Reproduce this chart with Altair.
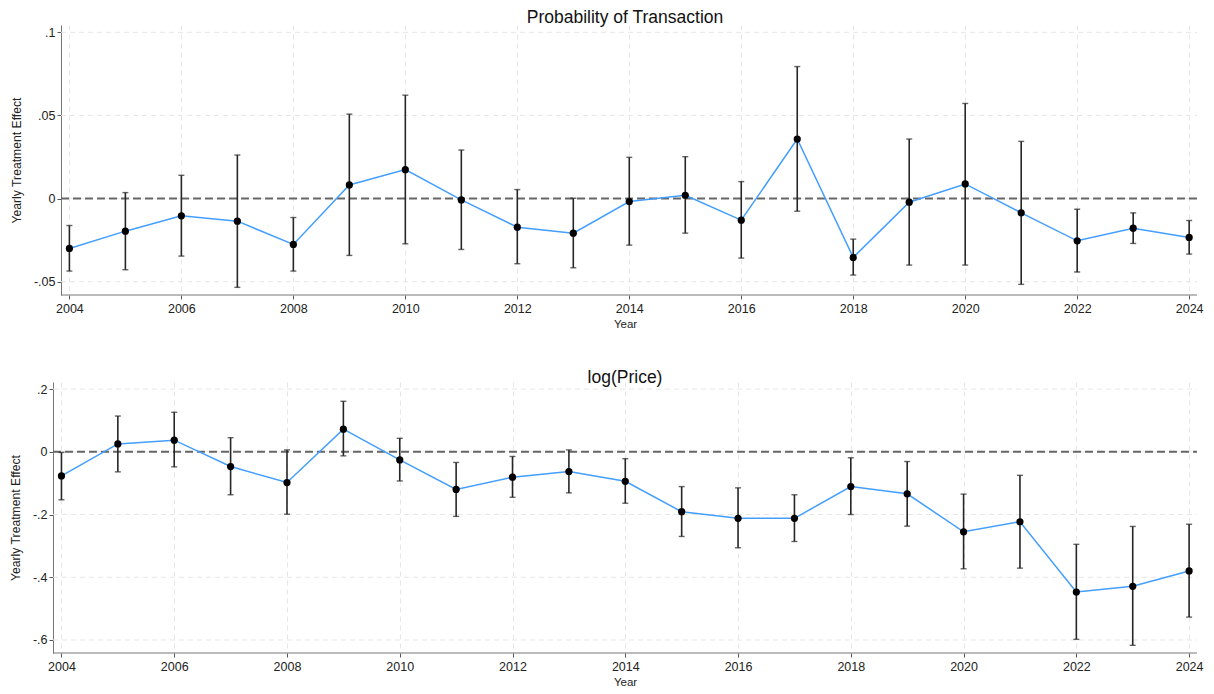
import altair as alt
import pandas as pd

years = list(range(2004, 2025))

# Panel 1: Probability of Transaction
prob_est = [-0.0300, -0.0196, -0.0104, -0.0136, -0.0276, 0.0082, 0.0174, -0.0008, -0.0172, -0.0208,
            -0.0018, 0.0020, -0.0130, 0.0358, -0.0354, -0.0022, 0.0088, -0.0086, -0.0254, -0.0178, -0.0234]
prob_hi = [-0.0162, 0.0036, 0.0140, 0.0262, -0.0114, 0.0508, 0.0622, 0.0292, 0.0054, 0.0002,
           0.0248, 0.0252, 0.0102, 0.0794, -0.0244, 0.0358, 0.0572, 0.0344, -0.0064, -0.0086, -0.0132]
prob_lo = [-0.0436, -0.0428, -0.0346, -0.0534, -0.0436, -0.0342, -0.0272, -0.0306, -0.0392, -0.0416,
           -0.0280, -0.0208, -0.0358, -0.0076, -0.0460, -0.0400, -0.0400, -0.0516, -0.0442, -0.0270, -0.0334]

# Panel 2: log(Price)
price_est = [-0.077, 0.025, 0.037, -0.047, -0.098, 0.072, -0.026, -0.120, -0.081, -0.063,
             -0.094, -0.191, -0.212, -0.212, -0.111, -0.134, -0.255, -0.223, -0.447, -0.429, -0.380]
price_hi = [-0.002, 0.114, 0.126, 0.045, 0.006, 0.161, 0.043, -0.034, -0.015, 0.006,
            -0.022, -0.111, -0.115, -0.137, -0.019, -0.031, -0.135, -0.075, -0.295, -0.238, -0.231]
price_lo = [-0.153, -0.064, -0.048, -0.137, -0.199, -0.013, -0.093, -0.206, -0.145, -0.131,
            -0.164, -0.270, -0.306, -0.286, -0.200, -0.237, -0.373, -0.371, -0.598, -0.617, -0.527]

x_ticks = list(range(2004, 2025, 2))
prob_ticks = [-0.05, 0, 0.05, 0.1]
price_ticks = [-0.6, -0.4, -0.2, 0, 0.2]

FONT = "Liberation Sans"
LABEL_EXPR = "replace(toString(datum.value), '0.', '.')"
YTITLE = "Yearly Treatment Effect"
W = 1144
PX_PER_YEAR = 56.0


def panel(title, est, lo, hi, ydomain, yticks, height, shift, title_offset):
    """shift = px by which the y axis sits inside the left edge of the plot area."""
    df = pd.DataFrame({"year": years, "est": est, "lo": lo, "hi": hi})
    x0 = 2003.85 - shift / PX_PER_YEAR
    xscale = alt.Scale(domain=[x0, 2024.14], nice=False, zero=False)
    yscale = alt.Scale(domain=ydomain, nice=False, zero=False)
    xaxis = alt.Axis(values=x_ticks, format="d", title="Year", grid=True,
                     gridDash=[5, 4], gridColor="#e6e6e6", gridWidth=1,
                     tickColor="#555", tickSize=4, domain=False,
                     labelPadding=3, titlePadding=4, titleFontSize=11.5)
    yaxis = alt.Axis(values=yticks, labelExpr=LABEL_EXPR, title=YTITLE, grid=False,
                     tickColor="#555", domainColor="#777", tickSize=4, offset=-shift,
                     labelPadding=2, titlePadding=10, titleFontSize=12.2)
    X = alt.X("year:Q", scale=xscale, axis=xaxis)
    base = alt.Chart(df)

    grid = alt.Chart(pd.DataFrame({"v": yticks})).mark_rule(
        color="#e6e6e6", strokeWidth=1, strokeDash=[5, 4]
    ).encode(y=alt.Y("v:Q", scale=yscale, axis=yaxis), x=alt.value(shift), x2=alt.value(W))
    xdomain = alt.Chart(pd.DataFrame({"v": [0]})).mark_rule(
        color="#777", strokeWidth=1
    ).encode(y=alt.value(height), x=alt.value(shift), x2=alt.value(W))
    zero = alt.Chart(pd.DataFrame({"z": [0]})).mark_rule(
        color="#666666", strokeWidth=2, strokeDash=[8, 4]
    ).encode(y=alt.datum(0, scale=yscale, axis=yaxis), x=alt.value(shift), x2=alt.value(W))
    bars = base.mark_rule(color="#262626", strokeWidth=1.6).encode(
        x=X, y=alt.Y("lo:Q", scale=yscale, axis=yaxis), y2="hi:Q"
    )
    cap_lo = base.mark_tick(orient="horizontal", size=6, thickness=1.4, color="#262626").encode(
        x=X, y=alt.Y("lo:Q", scale=yscale, axis=yaxis)
    )
    cap_hi = base.mark_tick(orient="horizontal", size=6, thickness=1.4, color="#262626").encode(
        x=X, y=alt.Y("hi:Q", scale=yscale, axis=yaxis)
    )
    line = base.mark_line(color="#429eff", strokeWidth=1.5).encode(
        x=X, y=alt.Y("est:Q", scale=yscale, axis=yaxis)
    )
    pts = base.mark_point(filled=True, color="#000000", size=52, opacity=1).encode(
        x=X, y=alt.Y("est:Q", scale=yscale, axis=yaxis)
    )
    return alt.layer(grid, xdomain, zero, bars, cap_lo, cap_hi, line, pts).properties(
        width=W, height=height,
        title=alt.TitleParams(title, fontSize=17.5, fontWeight="normal", font=FONT,
                              color="#111", offset=title_offset, anchor="middle"),
    )


top = panel("Probability of Transaction", prob_est, prob_lo, prob_hi,
            [-0.058, 0.1044], prob_ticks, 270, 8, -1)
bottom = panel("log(Price)", price_est, price_lo, price_hi,
               [-0.6415, 0.2225], price_ticks, 271, 0, -4)

chart = alt.vconcat(top, bottom, spacing=38).properties(
    padding={"left": 1, "top": 0, "right": 0, "bottom": 0}
).configure_view(stroke=None).configure_axis(
    labelFont=FONT, titleFont=FONT, labelFontSize=12.5,
    labelColor="#222", titleColor="#222", titleFontWeight="normal"
)

chart.save("out.html", embed_options={"renderer": "svg", "actions": False})
